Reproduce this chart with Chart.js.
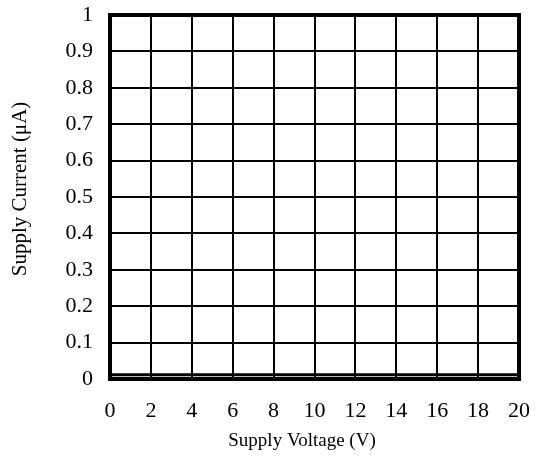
<!DOCTYPE html>
<html>
<head>
<meta charset="utf-8">
<script src="https://cdn.jsdelivr.net/npm/chart.js@4"></script>
<style>
  html, body { margin: 0; padding: 0; background: #fff; }
  #wrap { width: 543px; height: 464px; }
</style>
</head>
<body>
<div id="wrap"><canvas id="myChart" width="543" height="464"></canvas></div>
<script>
// Supply current vs supply voltage (flat, near zero)
const voltage = [0, 2, 4, 6, 8, 10, 12, 14, 16, 18, 20];
const current = [0.012, 0.012, 0.012, 0.012, 0.012, 0.012, 0.012, 0.012, 0.012, 0.012, 0.012];

const xTickLabels = ['0', '2', '4', '6', '8', '10', '12', '14', '16', '18', '20'];
const yTickLabels = ['0', '0.1', '0.2', '0.3', '0.4', '0.5', '0.6', '0.7', '0.8', '0.9', '1'];

const xTitle = 'Supply Voltage (V)';
const yTitle = 'Supply Current (\u03BCA)';

const serif = '"Liberation Serif", "Times New Roman", serif';

// thick frame round the plot area + the two axis titles
const frame = {
  id: 'frame',
  afterDraw(chart) {
    const a = chart.chartArea;
    const ctx = chart.ctx;
    ctx.save();
    ctx.strokeStyle = '#000';
    ctx.lineWidth = 4;
    ctx.strokeRect(a.left, a.top, a.right - a.left, a.bottom - a.top);

    ctx.fillStyle = '#000';
    ctx.textAlign = 'center';
    ctx.textBaseline = 'middle';
    ctx.font = '19px ' + serif;
    ctx.fillText(xTitle, 302, 441);
    ctx.font = '21px ' + serif;
    ctx.translate(20, 189);
    ctx.rotate(-Math.PI / 2);
    ctx.fillText(yTitle, 0, 0);
    ctx.restore();
  }
};

Chart.defaults.font.family = serif;
Chart.defaults.color = '#000';

const ctx = document.getElementById('myChart').getContext('2d');
new Chart(ctx, {
  type: 'line',
  data: {
    datasets: [{
      data: voltage.map((v, i) => ({ x: v, y: current[i] })),
      borderColor: '#000',
      borderWidth: 3,
      pointRadius: 0,
      fill: false,
      tension: 0
    }]
  },
  options: {
    responsive: false,
    animation: false,
    layout: { padding: { left: 0, top: 15, right: 24, bottom: 0 } },
    plugins: { legend: { display: false }, tooltip: { enabled: false } },
    scales: {
      x: {
        type: 'linear',
        min: 0, max: 20,
        ticks: {
          stepSize: 2, padding: 19, font: { size: 22 },
          callback: (v) => xTickLabels[Math.round(v / 2)]
        },
        grid: { color: '#000', lineWidth: 2, drawTicks: false },
        border: { color: '#000', width: 4 },
        afterFit(scale) {
          scale.height = 85;
          scale.paddingLeft = 0;
          scale.paddingRight = 0;
        }
      },
      y: {
        min: 0, max: 1,
        ticks: {
          stepSize: 0.1, padding: 17, font: { size: 22 },
          callback: (v) => yTickLabels[Math.round(v * 10)]
        },
        grid: { color: '#000', lineWidth: 2, drawTicks: false },
        border: { color: '#000', width: 4 },
        afterFit(scale) {
          scale.width = 110;
          scale.paddingTop = 0;
          scale.paddingBottom = 0;
        }
      }
    }
  },
  plugins: [frame]
});
</script>
</body>
</html>
